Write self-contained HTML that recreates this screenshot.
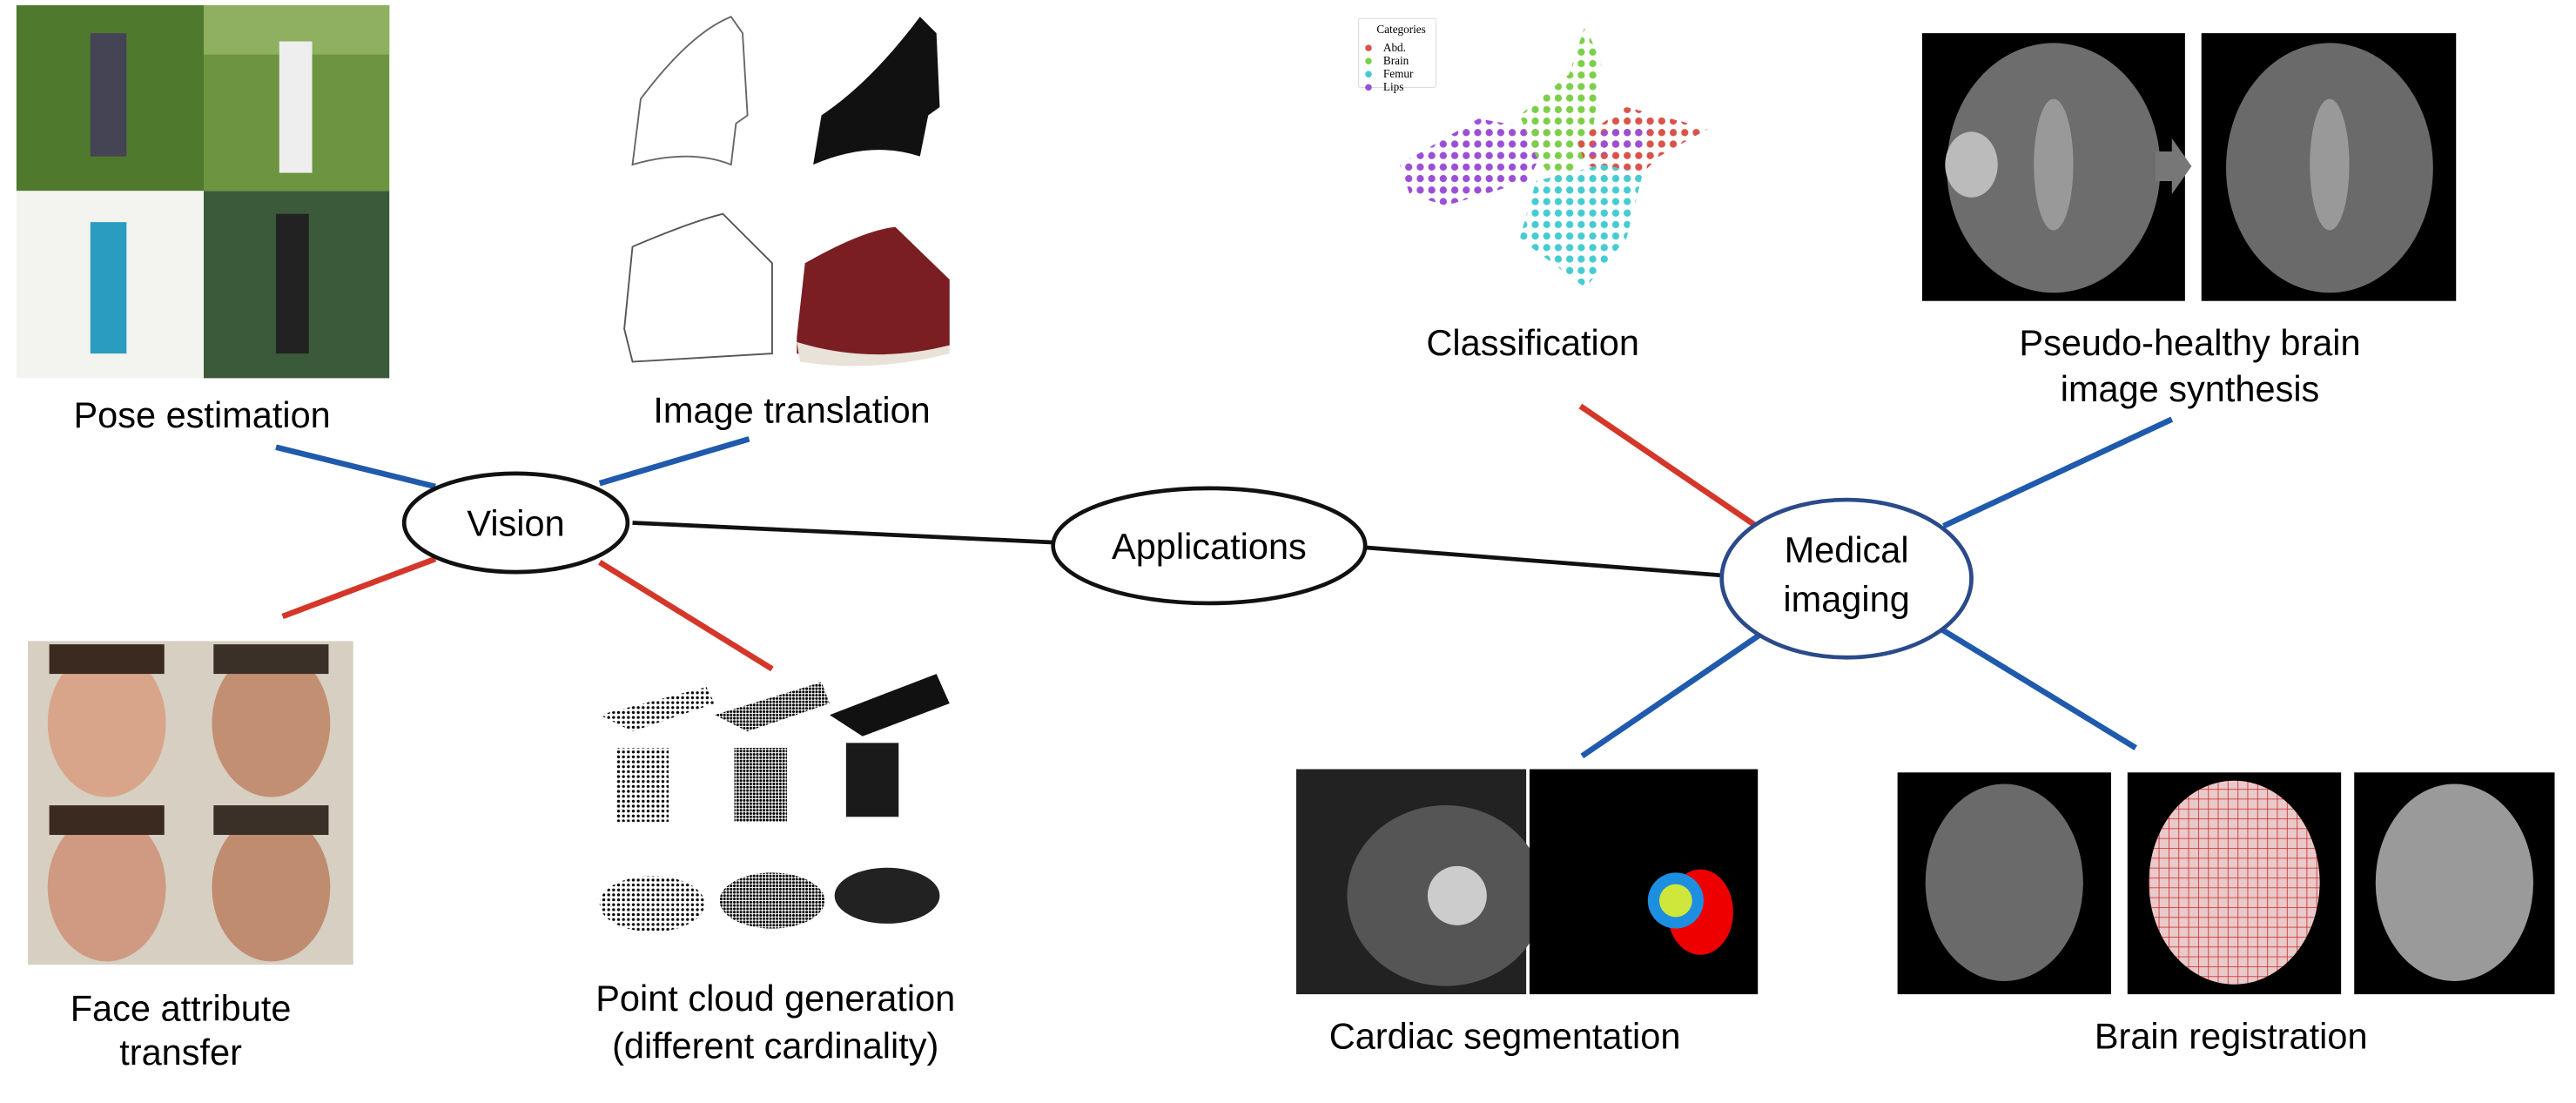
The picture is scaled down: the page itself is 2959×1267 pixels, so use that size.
<!DOCTYPE html>
<html><head><meta charset="utf-8"><style>
html,body{margin:0;padding:0;background:#fff;}
svg{display:block;}
text{font-family:"Liberation Sans",Arial,sans-serif;fill:#000;}
</style></head><body>
<svg width="2959" height="1267" viewBox="0 0 1568 671" xmlns="http://www.w3.org/2000/svg">
<defs>
<pattern id="dk" width="3" height="3" patternUnits="userSpaceOnUse"><rect width="3" height="3" fill="#fff"/><circle cx="1.5" cy="1.5" r="0.9" fill="#000"/></pattern>
<pattern id="dm" width="2" height="2" patternUnits="userSpaceOnUse"><rect width="2" height="2" fill="#fff"/><circle cx="1" cy="1" r="0.8" fill="#000"/></pattern>
<pattern id="pp" width="7" height="7" patternUnits="userSpaceOnUse"><circle cx="3.5" cy="3.5" r="2.2" fill="#9b4fd6"/></pattern>
<pattern id="pg" width="7" height="7" patternUnits="userSpaceOnUse"><circle cx="3.5" cy="3.5" r="2.2" fill="#7ccf4a"/></pattern>
<pattern id="pr" width="7" height="7" patternUnits="userSpaceOnUse"><circle cx="3.5" cy="3.5" r="2.2" fill="#d9534a"/></pattern>
<pattern id="pc" width="7" height="7" patternUnits="userSpaceOnUse"><circle cx="3.5" cy="3.5" r="2.2" fill="#45ccd2"/></pattern>
<pattern id="grid" width="6" height="6" patternUnits="userSpaceOnUse"><rect width="6" height="6" fill="#e9c9c9"/><path d="M0 0H6M0 0V6" stroke="#c22" stroke-width="0.8"/></pattern>
</defs>

<!-- Pose estimation -->
<rect x="10" y="3" width="114" height="113" fill="#4f7a2e"/>
<rect x="124" y="3" width="113" height="113" fill="#6d9440"/>
<rect x="10" y="116" width="114" height="114" fill="#f3f3f0"/>
<rect x="124" y="116" width="113" height="114" fill="#3a5a3a"/>
<rect x="124" y="3" width="113" height="30" fill="#8fb060"/>
<rect x="55" y="20" width="22" height="75" fill="#445"/>
<rect x="170" y="25" width="20" height="80" fill="#eee"/>
<rect x="55" y="135" width="22" height="80" fill="#2a9cc0"/>
<rect x="168" y="130" width="20" height="85" fill="#222"/>
<text x="123" y="260" font-size="22" text-anchor="middle">Pose estimation</text>

<!-- Image translation -->
<path d="M385 100 L390 60 Q420 20 445 10 L452 20 L455 70 L448 75 L445 100 Q420 90 385 100Z" fill="none" stroke="#666" stroke-width="1"/>
<path d="M495 100 L500 70 Q530 50 560 10 L570 20 L572 65 L565 70 L560 95 Q530 85 495 100Z" fill="#111"/>
<path d="M380 200 L385 150 Q420 135 440 130 L470 160 L470 215 L385 220Z" fill="none" stroke="#555" stroke-width="1"/>
<path d="M485 205 L490 160 Q525 140 545 138 L578 170 L578 210 Q530 222 485 215Z" fill="#7a1e22"/>
<path d="M485 208 Q530 222 578 210 L578 215 Q530 227 487 220Z" fill="#e8e2d8"/>
<text x="482" y="257" font-size="22" text-anchor="middle">Image translation</text>

<!-- Classification -->
<rect x="827" y="11" width="47" height="42" fill="#fff" stroke="#ddd" stroke-width="0.6" rx="1"/>
<text x="838" y="20" font-size="7" font-family="Liberation Serif" style="font-family:'Liberation Serif',serif">Categories</text>
<circle cx="833" cy="29" r="2" fill="#d9534a"/><text x="842" y="31" font-size="7" style="font-family:'Liberation Serif',serif">Abd.</text>
<circle cx="833" cy="37" r="2" fill="#7ccf4a"/><text x="842" y="39" font-size="7" style="font-family:'Liberation Serif',serif">Brain</text>
<circle cx="833" cy="45" r="2" fill="#45ccd2"/><text x="842" y="47" font-size="7" style="font-family:'Liberation Serif',serif">Femur</text>
<circle cx="833" cy="53" r="2" fill="#9b4fd6"/><text x="842" y="55" font-size="7" style="font-family:'Liberation Serif',serif">Lips</text>
<polygon points="852,100 900,72 945,80 930,110 880,125 858,118" fill="url(#pp)"/>
<polygon points="925,70 955,45 965,15 975,40 968,90 950,115 935,95" fill="url(#pg)"/>
<polygon points="960,85 990,65 1040,78 1010,95 995,110 965,100" fill="url(#pr)"/>
<polygon points="935,110 975,100 1000,105 990,145 965,175 945,160 925,145" fill="url(#pc)"/>
<polygon points="965,95 1000,90 1005,75 975,80" fill="url(#pp)"/>
<text x="933" y="216" font-size="22" text-anchor="middle">Classification</text>

<!-- Pseudo-healthy -->
<rect x="1170" y="20" width="160" height="163" fill="#000"/>
<rect x="1340" y="20" width="155" height="163" fill="#000"/>
<ellipse cx="1250" cy="102" rx="65" ry="76" fill="#6d6d6d"/>
<ellipse cx="1418" cy="102" rx="63" ry="76" fill="#6a6a6a"/>
<ellipse cx="1200" cy="100" rx="16" ry="20" fill="#bbb"/>
<ellipse cx="1250" cy="100" rx="12" ry="40" fill="#999"/>
<ellipse cx="1418" cy="100" rx="12" ry="40" fill="#999"/>
<polygon points="1312,92 1322,92 1322,84 1334,101 1322,118 1322,110 1312,110" fill="#777"/>
<text x="1333" y="216" font-size="22" text-anchor="middle">Pseudo-healthy brain</text>
<text x="1333" y="244" font-size="22" text-anchor="middle">image synthesis</text>

<!-- Connectors -->
<g stroke-width="3.5" fill="none">
<line x1="385" y1="318" x2="642" y2="330" stroke="#111" stroke-width="2.5"/>
<line x1="830" y1="333" x2="1048" y2="350" stroke="#111" stroke-width="2.5"/>
<line x1="168" y1="272" x2="265" y2="296" stroke="#1f5aac"/>
<line x1="365" y1="294" x2="456" y2="267" stroke="#1f5aac"/>
<line x1="172" y1="375" x2="265" y2="340" stroke="#d4372a"/>
<line x1="365" y1="342" x2="470" y2="407" stroke="#d4372a"/>
<line x1="962" y1="247" x2="1072" y2="322" stroke="#d4372a"/>
<line x1="1183" y1="320" x2="1322" y2="255" stroke="#1f5aac"/>
<line x1="1182" y1="383" x2="1300" y2="455" stroke="#1f5aac"/>
<line x1="963" y1="460" x2="1073" y2="385" stroke="#1f5aac"/>
</g>

<!-- Nodes -->
<ellipse cx="314" cy="318" rx="68" ry="30" fill="#fff" stroke="#111" stroke-width="2.5"/>
<text x="314" y="326" font-size="22" text-anchor="middle">Vision</text>
<ellipse cx="736" cy="332" rx="95" ry="35" fill="#fff" stroke="#111" stroke-width="2.5"/>
<text x="736" y="340" font-size="22" text-anchor="middle">Applications</text>
<ellipse cx="1124" cy="352" rx="76" ry="48" fill="#fff" stroke="#2b4a8a" stroke-width="2.5"/>
<text x="1124" y="342" font-size="22" text-anchor="middle">Medical</text>
<text x="1124" y="372" font-size="22" text-anchor="middle">imaging</text>

<!-- Face attribute transfer -->
<rect x="17" y="390" width="198" height="197" fill="#d6cfc2"/>
<ellipse cx="65" cy="440" rx="36" ry="45" fill="#d9a58a"/>
<ellipse cx="165" cy="440" rx="36" ry="45" fill="#c38f72"/>
<ellipse cx="65" cy="540" rx="36" ry="45" fill="#d09a82"/>
<ellipse cx="165" cy="540" rx="36" ry="45" fill="#bf8c70"/>
<rect x="30" y="392" width="70" height="18" fill="#3a2a20"/>
<rect x="130" y="392" width="70" height="18" fill="#3a3028"/>
<rect x="30" y="490" width="70" height="18" fill="#3a2a20"/>
<rect x="130" y="490" width="70" height="18" fill="#3a3028"/>
<text x="110" y="621" font-size="22" text-anchor="middle">Face attribute</text>
<text x="110" y="648" font-size="22" text-anchor="middle">transfer</text>

<!-- Point cloud -->
<path d="M365 435 L430 418 L435 428 L385 445Z" fill="url(#dk)"/>
<path d="M435 435 L500 415 L505 428 L455 445Z" fill="url(#dm)"/>
<path d="M505 435 L570 410 L578 428 L525 448Z" fill="#111"/>
<rect x="375" y="455" width="32" height="45" fill="url(#dk)"/>
<rect x="447" y="455" width="32" height="45" fill="url(#dm)"/>
<rect x="515" y="452" width="32" height="45" fill="#1a1a1a"/>
<ellipse cx="397" cy="550" rx="32" ry="17" fill="url(#dk)"/>
<ellipse cx="470" cy="548" rx="32" ry="17" fill="url(#dm)"/>
<ellipse cx="540" cy="545" rx="32" ry="17" fill="#222"/>
<text x="472" y="615" font-size="22" text-anchor="middle">Point cloud generation</text>
<text x="472" y="644" font-size="22" text-anchor="middle">(different cardinality)</text>

<!-- Cardiac segmentation -->
<rect x="789" y="468" width="140" height="137" fill="#222"/>
<ellipse cx="880" cy="545" rx="60" ry="55" fill="#555"/>
<circle cx="887" cy="545" r="18" fill="#ccc"/>
<rect x="931" y="468" width="139" height="137" fill="#000"/>
<ellipse cx="1035" cy="555" rx="20" ry="26" fill="#e00"/>
<circle cx="1020" cy="548" r="17" fill="#1c8fe0"/>
<circle cx="1020" cy="548" r="10" fill="#cfe63a"/>
<text x="916" y="638" font-size="22" text-anchor="middle">Cardiac segmentation</text>

<!-- Brain registration -->
<rect x="1155" y="470" width="130" height="135" fill="#000"/>
<rect x="1295" y="470" width="130" height="135" fill="#000"/>
<rect x="1433" y="470" width="122" height="135" fill="#000"/>
<ellipse cx="1220" cy="537" rx="48" ry="60" fill="#6a6a6a"/>
<ellipse cx="1360" cy="537" rx="52" ry="62" fill="url(#grid)"/>
<ellipse cx="1494" cy="537" rx="48" ry="60" fill="#9a9a9a"/>
<text x="1358" y="638" font-size="22" text-anchor="middle">Brain registration</text>
</svg>
</body></html>
